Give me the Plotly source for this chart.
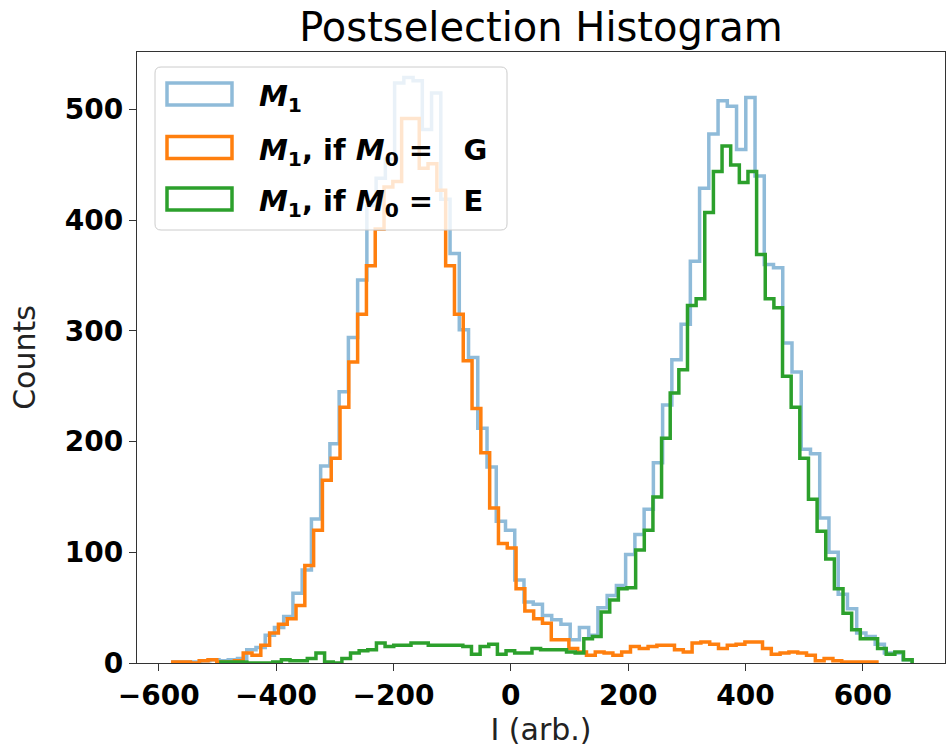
import numpy as np
import plotly.graph_objects as go

# ---------------- data ----------------
n_bins = 80
m1_range = (-576, 684)    # M1 (all shots)
g_range = (-576, 624)     # M1 if M0 = G
e_range = (-494, 684)     # M1 if M0 = E

m1_counts = [1, 1, 1, 2, 3, 2, 3, 4, 12, 14,
             25, 32, 42, 63, 84, 130, 178, 198, 245, 294,
             346, 413, 438, 455, 524, 529, 526, 482, 515, 419,
             370, 301, 276, 212, 177, 128, 120, 75, 55, 53,
             43, 39, 35, 21, 32, 25, 50, 61, 70, 98,
             116, 139, 181, 233, 274, 306, 363, 429, 478, 508,
             503, 464, 511, 440, 360, 357, 289, 263, 193, 189,
             131, 100, 62, 49, 27, 24, 17, 9, 9, 3]

g_counts = [1, 1, 0, 2, 3, 1, 1, 2, 9, 7,
            16, 27, 35, 40, 52, 88, 120, 165, 185, 231,
            272, 315, 359, 392, 430, 435, 492, 492, 447, 451,
            427, 359, 315, 273, 230, 190, 140, 108, 104, 67,
            47, 40, 36, 21, 21, 13, 10, 7, 10, 9,
            7, 10, 15, 13, 15, 16, 16, 12, 10, 18,
            19, 17, 13, 16, 17, 19, 19, 13, 8, 9,
            10, 9, 7, 2, 4, 2, 1, 1, 1, 1]

e_counts = [1, 1, 1, 0, 0, 0, 1, 3, 2, 2,
            4, 9, 1, 0, 4, 9, 11, 12, 18, 15,
            16, 16, 18, 18, 16, 16, 16, 16, 15, 8,
            15, 17, 8, 11, 9, 9, 13, 12, 12, 12,
            10, 9, 22, 24, 46, 57, 67, 68, 102, 120,
            150, 203, 244, 265, 323, 329, 407, 444, 467, 450,
            434, 444, 369, 329, 321, 259, 231, 185, 148, 119,
            94, 67, 45, 30, 22, 22, 13, 8, 10, 3]

x_ticks = [-600, -400, -200, 0, 200, 400, 600]
y_ticks = [0, 100, 200, 300, 400, 500]

NB = "\u00a0"
labels = ["<b><i>M</i><sub>1</sub></b>",
          f"<b><i>M</i><sub>1</sub>, if <i>M</i><sub>0</sub>{NB}={NB}{NB}{NB}G</b>",
          f"<b><i>M</i><sub>1</sub>, if <i>M</i><sub>0</sub>{NB}={NB}{NB}{NB}E</b>"]

# ---------------- styling ----------------
C_BLUE = "rgba(31,119,180,0.5)"
C_ORANGE = "#ff7f0e"
C_GREEN = "#2ca02c"
FONT = "DejaVu Sans"


def step_xy(rng, counts):
    edges = np.linspace(rng[0], rng[1], len(counts) + 1)
    xs = np.repeat(edges, 2)
    ys = np.concatenate([[0], np.repeat(np.asarray(counts, float), 2), [0]])
    return xs, ys


fig = go.Figure()
for rng, cnt, col in [(m1_range, m1_counts, C_BLUE),
                      (g_range, g_counts, C_ORANGE),
                      (e_range, e_counts, C_GREEN)]:
    xs, ys = step_xy(rng, cnt)
    fig.add_trace(go.Scatter(x=xs, y=ys, mode="lines",
                             line=dict(color=col, width=3.5),
                             showlegend=False, hoverinfo="skip"))

# ---------------- custom legend (matplotlib-like) ----------------
W_PLOT, H_PLOT = 808.0, 611.0


def px2paper(px, py):
    return (px - 137) / W_PLOT, (663 - py) / H_PLOT


def rounded_path(x0, y0, x1, y1, r=5):
    ax0, ay1 = px2paper(x0, y0)
    ax1, ay0 = px2paper(x1, y1)
    rx, ry = r / W_PLOT, r / H_PLOT
    return (f"M {ax0+rx},{ay1} L {ax1-rx},{ay1} Q {ax1},{ay1} {ax1},{ay1-ry} "
            f"L {ax1},{ay0+ry} Q {ax1},{ay0} {ax1-rx},{ay0} "
            f"L {ax0+rx},{ay0} Q {ax0},{ay0} {ax0},{ay0+ry} "
            f"L {ax0},{ay1-ry} Q {ax0},{ay1} {ax0+rx},{ay1} Z")


shapes = [dict(type="path", xref="paper", yref="paper",
               path=rounded_path(155, 67, 507, 230, 6),
               fillcolor="rgba(255,255,255,0.8)",
               line=dict(color="#cccccc", width=1), layer="above")]
annotations = []
row_y = [94, 147.5, 199]
for i, (col, lab) in enumerate(zip([C_BLUE, C_ORANGE, C_GREEN], labels)):
    cy = row_y[i]
    x0, y0 = px2paper(167, cy - 11)
    x1, y1 = px2paper(232, cy + 11)
    shapes.append(dict(type="rect", xref="paper", yref="paper",
                       x0=x0, x1=x1, y0=y1, y1=y0,
                       line=dict(color=col, width=3.5),
                       fillcolor="rgba(0,0,0,0)", layer="above"))
    tx, ty = px2paper(257, cy + 4)
    annotations.append(dict(xref="paper", yref="paper", x=tx, y=ty,
                            xanchor="left", yanchor="middle",
                            text=lab, showarrow=False,
                            font=dict(family=FONT, size=29, color="black")))

axis_common = dict(showgrid=False, zeroline=False, showline=True, mirror=True,
                   linecolor="#333333", linewidth=1.3,
                   ticks="outside", ticklen=7, tickwidth=1.3, tickcolor="#333333",
                   tickfont=dict(family=FONT, size=28, color="black", weight="bold"))

fig.update_layout(
    width=948, height=748,
    margin=dict(l=137, r=3, t=52, b=85, pad=0),
    paper_bgcolor="white", plot_bgcolor="white",
    title=dict(text="Postselection Histogram", x=0.5, xref="paper",
               y=1 - 27 / 748, yref="container", xanchor="center", yanchor="middle",
               font=dict(family=FONT, size=40, color="black")),
    xaxis=dict(range=[-637, 740], tickvals=x_ticks,
               title=dict(text="I (arb.)", font=dict(family=FONT, size=30, color="#222"),
                          standoff=3),
               **axis_common),
    yaxis=dict(range=[0, 552], tickvals=y_ticks,
               title=dict(text="Counts", font=dict(family=FONT, size=30, color="#222"),
                          standoff=20),
               **axis_common),
    shapes=shapes, annotations=annotations,
    showlegend=False,
)

fig.write_html("out.html")
